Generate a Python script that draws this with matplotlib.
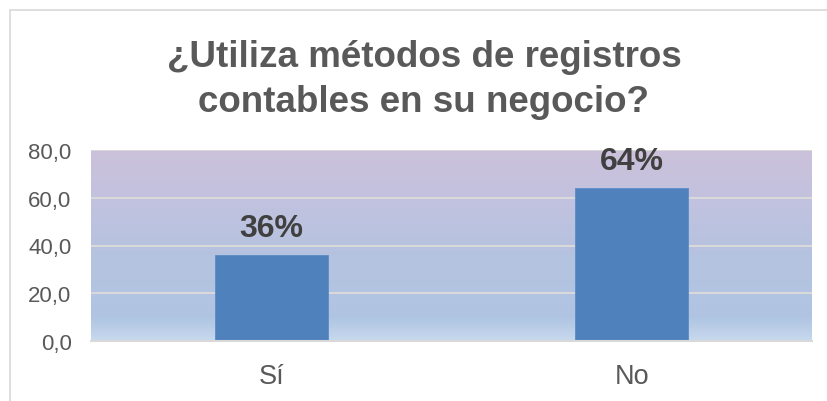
import matplotlib
matplotlib.use("Agg")
import matplotlib.pyplot as plt
import numpy as np
from matplotlib.colors import LinearSegmentedColormap
from matplotlib.patches import Rectangle

categories = ["Sí", "No"]
values = [36, 64]
labels = ["36%", "64%"]
yticks = [0, 20, 40, 60, 80]
ytick_labels = ["0,0", "20,0", "40,0", "60,0", "80,0"]
title_lines = ["¿Utiliza métodos de registros", "contables en su negocio?"]

plt.rcParams['font.family'] = ['Liberation Sans', 'DejaVu Sans']

W, H = 827, 402
fig = plt.figure(figsize=(W/100, H/100), dpi=100)
fig.patch.set_facecolor("white")

# outer chart frame
fig.patches.append(Rectangle((10/W, -0.01), 1.1, (H-11)/H + 0.01, transform=fig.transFigure,
                             fill=False, edgecolor="#D9D9D9", linewidth=1.2))

left, right, top, bottom = 91, 812, 151, 342
ax = fig.add_axes([left/W, 1-bottom/H, (right-left)/W, (bottom-top)/H])

x = np.arange(len(categories))
ax.set_xlim(-0.5, len(categories)-0.5)
ax.set_ylim(0, 80)

# gradient background
cmap = LinearSegmentedColormap.from_list("bg", [
    (0.0, "#C8D9EE"), (0.12, "#B0C5E2"), (0.45, "#B5C3E0"),
    (0.75, "#C2C2DF"), (1.0, "#CCC1DB")])
grad = np.linspace(0, 1, 256).reshape(-1, 1)
ax.imshow(grad, cmap=cmap, aspect="auto", extent=(-0.5, len(categories)-0.5, 0, 80),
          origin="lower", zorder=0)

for yv in yticks[1:]:
    ax.axhline(yv, color="#D9D9D9", linewidth=1.5, zorder=1)

ax.bar(x, values, width=0.313, color="#4F81BD", edgecolor="#5B8CC8", linewidth=0.6, zorder=2)

for xi, v, lab in zip(x, values, labels):
    ax.annotate(lab, (xi, v), xytext=(0, 13.5), textcoords="offset points",
                ha="center", va="baseline", fontsize=23, fontweight="bold",
                color="#404040", zorder=3, annotation_clip=False)

for s in ["top", "right", "left"]:
    ax.spines[s].set_visible(False)
ax.spines["bottom"].set_color("#D9D9D9")
ax.spines["bottom"].set_linewidth(1.5)

ax.set_yticks(yticks)
ax.set_yticklabels(ytick_labels, fontsize=16, color="#595959")
ax.set_xticks(x)
ax.set_xticklabels(categories, fontsize=19.5, color="#595959")
ax.tick_params(axis="both", length=0)
ax.tick_params(axis="y", pad=14)
ax.tick_params(axis="x", pad=16)

for i, line in enumerate(title_lines):
    fig.text(424/W, 1-(67 + 45*i)/H, line, ha="center", va="baseline", fontsize=26.5,
             fontweight="bold", color="#595959")

fig.savefig("out.png", dpi=100)
